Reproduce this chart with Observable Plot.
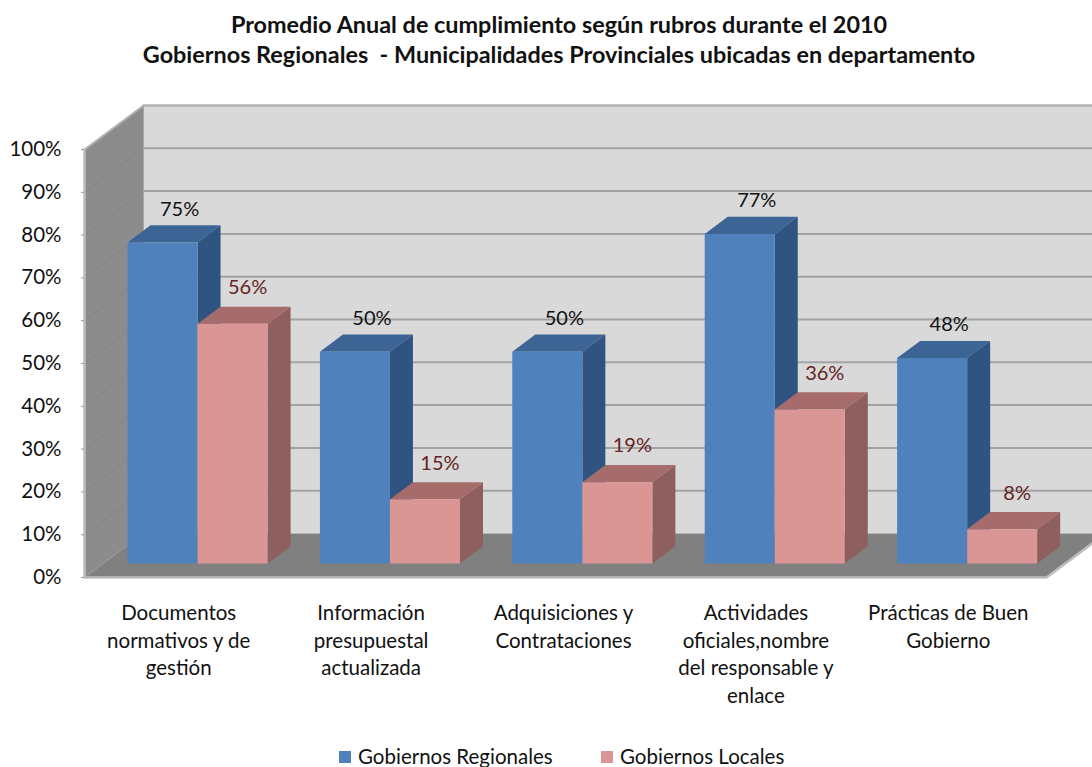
<!DOCTYPE html>
<html><head><meta charset="utf-8">
<script src="https://cdn.jsdelivr.net/npm/d3@7"></script>
<script src="https://cdn.jsdelivr.net/npm/@observablehq/plot@0.6"></script>
<style>
html,body{margin:0;padding:0;background:#fff;overflow:hidden;width:1092px;height:767px;font-family:Lato,sans-serif;color:#111}
#title{box-sizing:border-box;width:1092px;height:80px;padding:9px 0 0 26px;text-align:center;font-weight:700;font-size:23.4px;line-height:30px;white-space:pre}
#chart{height:650px}
#legend{position:relative;height:37px;font-size:20.5px}
#legend span{position:absolute;top:14px;line-height:24px;white-space:nowrap}
#legend i{position:absolute;top:21px;width:12px;height:12px}
svg{display:block}
</style></head><body>
<div id="title">Promedio Anual de cumplimiento según rubros durante el 2010
Gobiernos Regionales  - Municipalidades Provinciales ubicadas en departamento</div>
<div id="chart"></div>
<div id="legend"><i style="left:339px;background:#4f81bd"></i><span style="left:358px">Gobiernos Regionales</span><i style="left:601px;background:#d99694"></i><span style="left:620px">Gobiernos Locales</span></div>
<script>
const categories = ["Documentos\nnormativos y de\ngestión","Información\npresupuestal\nactualizada","Adquisiciones y\nContrataciones","Actividades\noficiales,nombre\ndel responsable y\nenlace","Prácticas de Buen\nGobierno"];
const regionales = [75,49.5,49.5,77,48];
const locales = [56,15,19,36,8];
const ticks = d3.range(0,101,10);

// oblique projection of the chart box, in data units
const depthX = 0.3067, depthY = 10.28, barFront = 0.318, barDepth = 0.39, inset = 0.126, barW = 0.364;
const P = (u,v,z) => ({x:u+z*depthX, y:v+z*depthY});
const poly = (id,pts) => pts.map(([u,v,z]) => ({id,...P(u,v,z)}));

function faces(values, offset){
  const front=[],top=[],side=[],labels=[];
  values.forEach((v,i)=>{
    const a=i+inset+offset, b=a+barW, f=barFront, k=barFront+barDepth;
    front.push(...poly(i,[[a,0,f],[b,0,f],[b,v,f],[a,v,f]]));
    top.push(...poly(i,[[a,v,f],[b,v,f],[b,v,k],[a,v,k]]));
    side.push(...poly(i,[[b,0,f],[b,0,k],[b,v,k],[b,v,f]]));
    labels.push({...P(a+barW/2,v,k),t:Math.round(v)+"%"});
  });
  return {front,top,side,labels};
}
const blue=faces(regionales,0), pink=faces(locales,barW);
const face=(rows,fill)=>Plot.line(rows,{x:"x",y:"y",z:"id",fill,stroke:null,curve:"linear-closed"});
const lineM=(rows,o)=>Plot.line(rows,{x:"x",y:"y",z:"id",curve:"linear",...o});

const gridBack=ticks.filter(t=>t>0).flatMap(t=>poly(t,[[0,t,1],[5,t,1]]));
const gridSide=ticks.filter(t=>t>0).flatMap(t=>poly(t,[[0,t,0],[0,t,1]]));

const svg=Plot.plot({
  width:1092,height:650,marginLeft:84,marginRight:46,marginTop:69,marginBottom:153,
  style:{fontFamily:"Lato, sans-serif",background:"#fff",color:"#111"},
  x:{type:"linear",domain:[0,5],axis:null},
  y:{domain:[0,100],axis:null},
  marks:[
    face(poly("b",[[0,0,1],[5,0,1],[5,100,1],[0,100,1]]),"#d9d9d9"),
    face(poly("s",[[0,0,0],[0,100,0],[0,100,1],[0,0,1]]),"#8c8c8c"),
    lineM(gridBack,{stroke:"#a3a3a3",strokeWidth:2}),
    lineM(gridSide,{stroke:"#848484",strokeWidth:1}),
    face(poly("f",[[0,0,0],[5,0,0],[5,0,1],[0,0,1]]),"#808080"),
    lineM(poly("e",[[0,100,0],[0,100,1],[5,100,1]]),{stroke:"#b5b5b5",strokeWidth:2}),
    lineM(poly("e2",[[0,100,1],[0,0,1]]),{stroke:"#a8a8a8",strokeWidth:1}),
    lineM(poly("e3",[[0,100,0],[0,0,0],[5,0,0],[5,0,1]]),{stroke:"#bdbdbd",strokeWidth:2.5}),
    Plot.axisY(ticks,{anchor:"left",tickSize:3,tickPadding:20,stroke:"#999",tickFormat:d=>d+"%",fontSize:20.5,fill:"#111",label:null}),
    face(blue.top,"#3c6494"),face(blue.side,"#2f5481"),face(blue.front,"#4f81bd"),
    face(pink.top,"#a66c6b"),face(pink.side,"#8e5f5e"),face(pink.front,"#d99694"),
    Plot.text(blue.labels,{x:"x",y:"y",text:"t",dx:-6,dy:-16,fontSize:20,fill:"#111"}),
    Plot.text(pink.labels,{x:"x",y:"y",text:"t",dx:-8,dy:-19,fontSize:20,fill:"#632523"}),
    Plot.text(categories,{x:(d,i)=>i+0.5,y:()=>0,text:d=>d,dx:-2,dy:23,lineAnchor:"top",lineHeight:1.35,fontSize:20.5,fill:"#111"})
  ]
});
document.getElementById("chart").append(svg);
</script>
</body></html>
